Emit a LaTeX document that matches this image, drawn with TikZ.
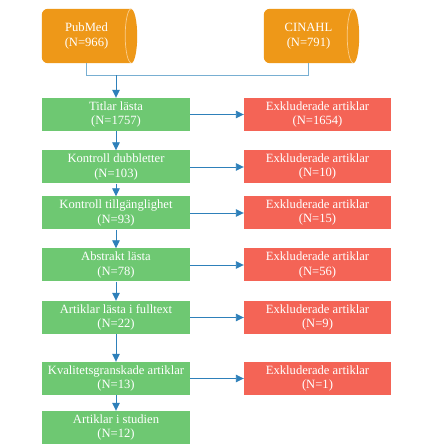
\documentclass[tikz,border=0pt]{standalone}
\usepackage{fontspec}
\setmainfont{Liberation Serif}
\usetikzlibrary{arrows.meta}
\definecolor{cylorange}{RGB}{238,152,24}
\definecolor{cylinner}{RGB}{250,205,140}
\definecolor{stepgreen}{RGB}{110,200,114}
\definecolor{exred}{RGB}{244,100,86}
\definecolor{arrowblue}{RGB}{46,128,186}
\definecolor{lineblue}{RGB}{120,175,210}
\begin{document}
\begin{tikzpicture}[x=1pt,y=1pt,
  txt/.style={text=white, align=center, font=\fontsize{12.6}{14.5}\selectfont, inner sep=0pt},
  greenbox/.style={txt, fill=stepgreen, minimum width=148pt, minimum height=33pt},
  redbox/.style={txt, fill=exred, minimum width=147pt, minimum height=33pt},
  cylnode/.style={txt, minimum width=89pt, minimum height=54pt},
  arr/.style={draw=arrowblue, line width=0.9pt, -{Triangle[length=8pt,width=7.5pt]}},
  thinline/.style={draw=lineblue, line width=0.9pt}
]
\useasboundingbox (0,0) rectangle (422,448);
\fill[white] (0,0) rectangle (422,448);

% cylinders
\newcommand{\cylshape}[1]{%
  \fill[cylorange] (#1.north east) -- ([xshift=6pt]#1.north west)
    arc[start angle=90,end angle=180,radius=6pt]
    -- ([yshift=6pt]#1.south west)
    arc[start angle=180,end angle=270,radius=6pt]
    -- (#1.south east)
    arc[start angle=-90,end angle=90,x radius=6pt,y radius=27pt] -- cycle;
  \draw[cylinner, line width=0.7pt] (#1.north east)
    arc[start angle=90,end angle=270,x radius=6pt,y radius=27pt];}

\path (86.5,412) node[cylnode] (pub) {};
\path (308.5,412) node[cylnode] (cin) {};
\cylshape{pub}
\cylshape{cin}
\node[txt] at (pub) {PubMed\\(N=966)};
\node[txt] at (cin) {CINAHL\\(N=791)};

% green steps
\node[greenbox] (g1) at (116,333.5) {Titlar lästa\\(N=1757)};
\node[greenbox] (g2) at (116,281) {Kontroll dubbletter\\(N=103)};
\node[greenbox] (g3) at (116,235) {Kontroll tillgänglighet\\(N=93)};
\node[greenbox] (g4) at (116,183) {Abstrakt lästa\\(N=78)};
\node[greenbox] (g5) at (116,130.5) {Artiklar lästa i fulltext\\(N=22)};
\node[greenbox] (g6) at (116,69.5) {Kvalitetsgranskade artiklar\\(N=13)};
\node[greenbox] (g7) at (116,20.5) {Artiklar i studien\\(N=12)};

% red exclusions
\node[redbox] (r1) at (317.5,333.5) {Exkluderade artiklar\\(N=1654)};
\node[redbox] (r2) at (317.5,281.5) {Exkluderade artiklar\\(N=10)};
\node[redbox] (r3) at (317.5,235.5) {Exkluderade artiklar\\(N=15)};
\node[redbox] (r4) at (317.5,183) {Exkluderade artiklar\\(N=56)};
\node[redbox] (r5) at (317.5,130.5) {Exkluderade artiklar\\(N=9)};
\node[redbox] (r6) at (317.5,69.5) {Exkluderade artiklar\\(N=1)};

% merge of sources
\coordinate (jl) at (pub.south |- 0,372.5);
\coordinate (jr) at (cin.south |- 0,372.5);
\coordinate (jm) at (g1.north |- 0,372.5);
\draw[thinline] (pub.south) -- (jl) -- (jr) -- (cin.south);
\draw[arr] (jm) -- (g1.north);

% vertical flow
\foreach \a/\b in {g1/g2,g2/g3,g3/g4,g4/g5,g5/g6,g6/g7}
  \draw[arr] (\a.south) -- (\b.north);

% horizontal exclusions
\foreach \a/\b in {g1/r1,g2/r2,g3/r3,g4/r4,g5/r5,g6/r6}
  \draw[arr] (\a.east) -- (\a.east -| \b.west);
\end{tikzpicture}
\end{document}
